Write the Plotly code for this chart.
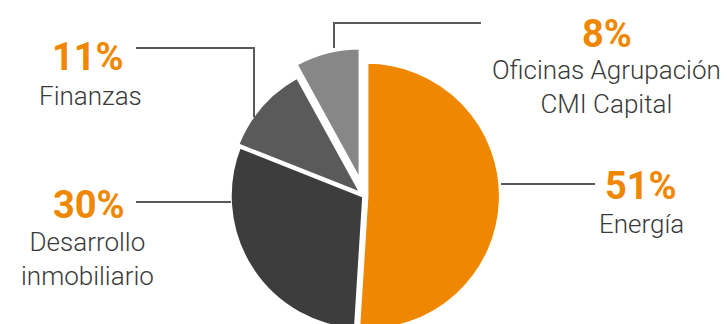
import plotly.graph_objects as go

# Portfolio split by business line
sectors = ["Energía", "Desarrollo inmobiliario", "Finanzas", "Oficinas Agrupación CMI Capital"]
shares = [51, 30, 11, 8]
slice_colors = ["#F08700", "#3D3D3D", "#5A5A5A", "#878787"]
slice_pull = [0.02, 0.0, 0.02, 0.11]

W, H = 727, 360
ORANGE = "#F08700"
TEXT = "#3A3A3A"
LINE = "#595959"

# pie centre / base radius in pixels (top-left origin)
cx, cy, r = 364, 196, 134
half = r * (1 + max(slice_pull))


def px(x, y):
    return x / W, 1 - y / H


fig = go.Figure(
    go.Pie(
        labels=sectors,
        values=shares,
        sort=False,
        direction="clockwise",
        rotation=0,
        pull=slice_pull,
        marker=dict(colors=slice_colors, line=dict(color="white", width=3.5)),
        textinfo="none",
        hoverinfo="label+percent",
        showlegend=False,
        domain=dict(
            x=[(cx - half) / W, (cx + half) / W],
            y=[1 - (cy + half) / H, 1 - (cy - half) / H],
        ),
    )
)

# leader lines (pixel polylines)
leaders = [
    [(334, 48), (334, 23), (481, 23)],      # Oficinas
    [(254, 117), (254, 48), (136, 48)],     # Finanzas
    [(231, 202), (136, 202)],               # Desarrollo
    [(501, 184), (595, 184)],               # Energía
]
shapes = []
for pts in leaders:
    path = ""
    for i, (x, y) in enumerate(pts):
        xp, yp = px(x, y)
        path += ("M" if i == 0 else "L") + f"{xp},{yp} "
    shapes.append(dict(type="path", xref="paper", yref="paper", path=path.strip(),
                       line=dict(color=LINE, width=2)))

pct_labels = [
    (f"{shares[3]}%", 607, 34),
    (f"{shares[0]}%", 641, 186),
    (f"{shares[2]}%", 88, 57),
    (f"{shares[1]}%", 89, 205),
]
name_labels = [
    ("Oficinas Agrupación<br>CMI Capital", 606, 87),
    ("Energía", 641, 224),
    ("Finanzas", 90, 96),
    ("Desarrollo<br>inmobiliario", 87, 259),
]

annotations = []
for t, x, y in pct_labels:
    xp, yp = px(x, y)
    annotations.append(dict(text=f"<b>{t}</b>", x=xp, y=yp, xref="paper", yref="paper",
                            xanchor="center", yanchor="middle", showarrow=False,
                            font=dict(family="Roboto", size=38, color=ORANGE)))
for t, x, y in name_labels:
    xp, yp = px(x, y)
    annotations.append(dict(text=t, x=xp, y=yp, xref="paper", yref="paper",
                            xanchor="center", yanchor="middle", showarrow=False,
                            font=dict(family="Roboto", size=26, weight=300, color=TEXT)))

fig.update_layout(
    width=W,
    height=H,
    margin=dict(l=0, r=0, t=0, b=0),
    paper_bgcolor="white",
    plot_bgcolor="white",
    shapes=shapes,
    annotations=annotations,
)

fig.write_html("out.html", post_script="document.body.style.overflow='hidden';")
